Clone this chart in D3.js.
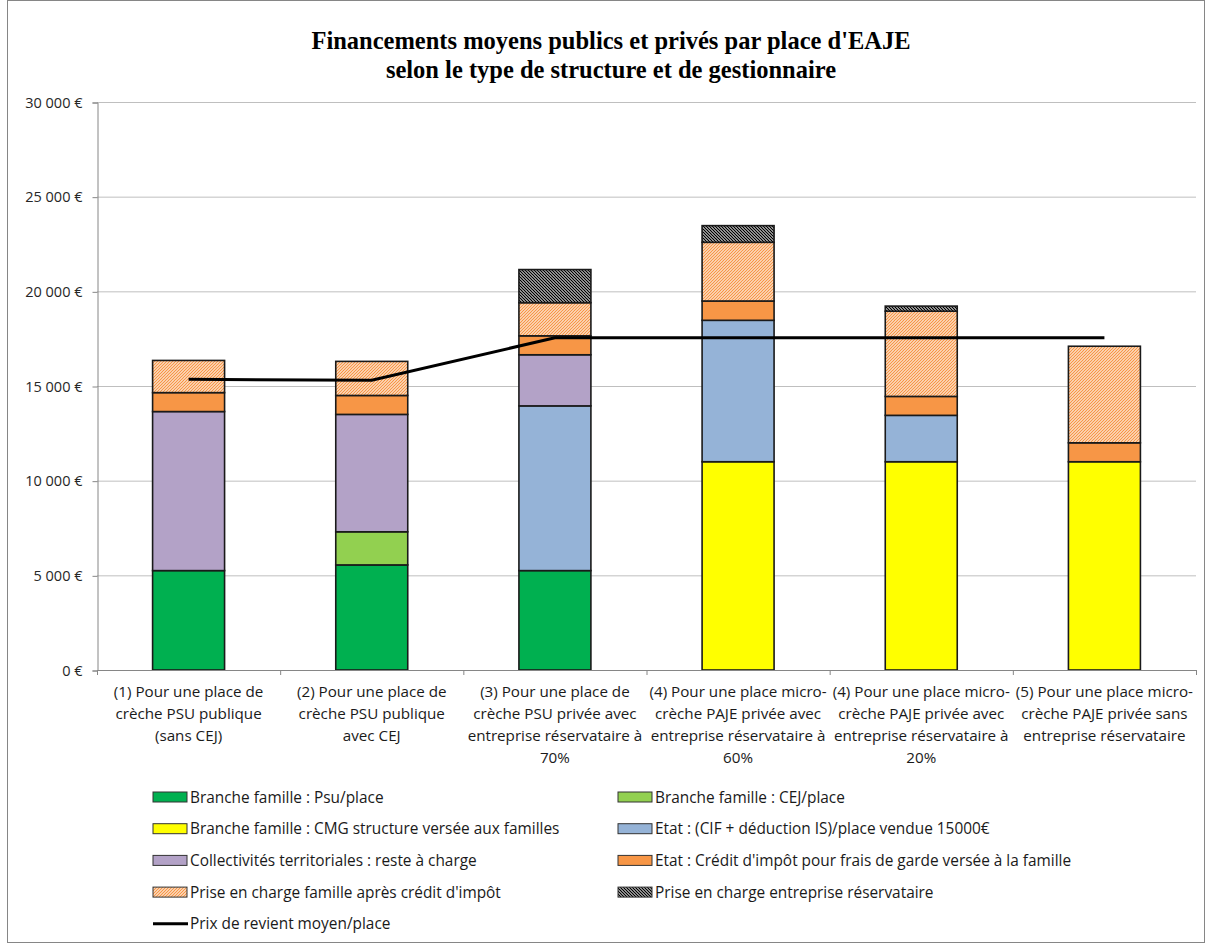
<!DOCTYPE html>
<html><head><meta charset="utf-8">
<script src="https://cdn.jsdelivr.net/npm/d3@7"></script>
<style>body{margin:0;background:#fff}svg{display:block}</style>
</head><body>
<svg id="chart" width="1206" height="944"></svg>
<script>
const categories = [
  "(1) Pour une place de\ncrèche PSU publique\n(sans CEJ)",
  "(2) Pour une place de\ncrèche PSU publique\navec CEJ",
  "(3) Pour une place de\ncrèche PSU privée avec\nentreprise réservataire à\n70%",
  "(4) Pour une place micro-\ncrèche PAJE privée avec\nentreprise réservataire à\n60%",
  "(4) Pour une place micro-\ncrèche PAJE privée avec\nentreprise réservataire à\n20%",
  "(5) Pour une place micro-\ncrèche PAJE privée sans\nentreprise réservataire"
];
const psuPlace      = [5250, 5550, 5250, 0, 0, 0];
const cejPlace      = [0, 1750, 0, 0, 0, 0];
const cmgStructure  = [0, 0, 0, 11000, 11000, 11000];
const etatCif       = [0, 0, 8700, 7470, 2450, 0];
const collectivites = [8400, 6200, 2700, 0, 0, 0];
const creditImpot   = [1000, 1000, 1000, 1020, 1000, 1000];
const priseFamille  = [1700, 1800, 1750, 3100, 4500, 5100];
const priseEntreprise = [0, 0, 1750, 880, 270, 0];
const prixRevient   = [15350, 15300, 17550, 17550, 17550, 17550];
const yTicks = [0, 5000, 10000, 15000, 20000, 25000, 30000];
const seriesNames = [
  "Branche famille : Psu/place",
  "Branche famille : CEJ/place",
  "Branche famille : CMG structure versée aux familles",
  "Etat : (CIF + déduction IS)/place vendue 15000€",
  "Collectivités territoriales : reste à charge",
  "Etat : Crédit d'impôt pour frais de garde versée à la famille",
  "Prise en charge famille après crédit d'impôt",
  "Prise en charge entreprise réservataire"
];
const lineName = "Prix de revient moyen/place";
const titleLines = ["Financements moyens publics et privés par place d'EAJE", "selon le type de structure et de gestionnaire"];

(function(){
const seriesValues = [psuPlace, cejPlace, cmgStructure, etatCif, collectivites, creditImpot, priseFamille, priseEntreprise];
const fills = ["#00B050", "#92D050", "#FFFF00", "#95B3D7", "#B3A2C7", "#F79646", "url(#hatchOrange)", "url(#hatchBlack)"];

const svg = d3.select("#chart");
const defs = svg.append("defs");
const po = defs.append("pattern").attr("id","hatchOrange").attr("patternUnits","userSpaceOnUse")
  .attr("width",3).attr("height",3);
po.append("rect").attr("width",3).attr("height",3).attr("fill","#fff");
po.append("path").attr("d","M-1,1 l2,-2 M0,3 l3,-3 M2,4 l2,-2").attr("stroke","#F79646").attr("stroke-width",1.3);
const pb = defs.append("pattern").attr("id","hatchBlack").attr("patternUnits","userSpaceOnUse")
  .attr("width",3).attr("height",3);
pb.append("rect").attr("width",3).attr("height",3).attr("fill","#fff");
pb.append("path").attr("d","M-1,2 l2,2 M0,0 l3,3 M2,-1 l2,2").attr("stroke","#000").attr("stroke-width",1.3);

svg.append("rect").attr("x",7.5).attr("y",0.5).attr("width",1197).attr("height",942)
  .attr("fill","none").attr("stroke","#868686").attr("stroke-width",1);

const pLeft = 97, pRight = 1196, pTop = 102, pBottom = 670;
const x = d3.scaleBand().domain(categories).range([pLeft, pRight]).paddingInner(0.607).paddingOuter(0.3035);
const y = d3.scaleLinear().domain([0, 30000]).range([pBottom, pTop]);

svg.append("text").attr("x", 611).attr("y", 49).attr("text-anchor","middle")
  .style("font-family","'Liberation Serif', serif").style("font-weight","bold").style("font-size","24.5px")
  .selectAll("tspan").data(titleLines).join("tspan")
  .attr("x", 611).attr("dy", (d,i)=> i===0 ? 0 : 29).text(d=>d);

svg.append("g").selectAll("line").data(yTicks).join("line")
  .attr("x1", pLeft).attr("x2", pRight).attr("y1", d=>y(d)+0.5).attr("y2", d=>y(d)+0.5)
  .attr("stroke","#BFBFBF").attr("stroke-width",1);

const fmt = d => d3.format(",")(d).replace(/,/g, " ") + " €";
const yAxis = svg.append("g").attr("transform", `translate(${pLeft+0.5},0.5)`)
  .call(d3.axisLeft(y).tickValues(yTicks).tickFormat(fmt).tickSize(5).tickPadding(10));
yAxis.select(".domain").attr("stroke","#868686");
yAxis.selectAll(".tick line").attr("stroke","#868686");
yAxis.selectAll("text").style("font-family","'Open Sans', sans-serif").style("font-size","14.5px").attr("fill","#262626");

const idx = d3.range(categories.length);
const stackData = idx.map(i => { const o = {cat: categories[i]}; seriesValues.forEach((s,k)=> o["s"+k] = s[i]); return o; });
const stack = d3.stack().keys(seriesValues.map((s,k)=>"s"+k))(stackData);
svg.append("g").selectAll("g").data(stack).join("g")
  .attr("fill", (d,k)=>fills[k])
  .selectAll("rect").data(d=>d.filter(p => p[1]-p[0] > 0)).join("rect")
  .attr("x", d=>x(d.data.cat)).attr("width", x.bandwidth())
  .attr("y", d=>y(d[1])).attr("height", d=>y(d[0])-y(d[1]))
  .attr("stroke","#1a1a1a").attr("stroke-width",1.6);

svg.append("line").attr("x1",pLeft).attr("x2",pRight).attr("y1",pBottom+0.5).attr("y2",pBottom+0.5).attr("stroke","#868686");
const step = x.step();
svg.append("g").selectAll("line").data(d3.range(categories.length+1)).join("line")
  .attr("x1", i=>pLeft + i*step + 0.5).attr("x2", i=>pLeft + i*step + 0.5)
  .attr("y1", pBottom).attr("y2", pBottom+5).attr("stroke","#868686");

svg.append("g").selectAll("text").data(categories).join("text")
  .attr("text-anchor","middle")
  .style("font-family","'Open Sans', sans-serif").style("font-size","15.2px").attr("fill","#1a1a1a")
  .each(function(d){
    const t = d3.select(this); const cx = x(d) + x.bandwidth()/2;
    d.split("\n").forEach((ln,i)=> t.append("tspan").attr("x",cx).attr("y", pBottom + 27 + i*22).text(ln));
  });

svg.append("path").datum(idx)
  .attr("d", d3.line().x(i => x(categories[i]) + x.bandwidth()/2).y(i => y(prixRevient[i])))
  .attr("fill","none").attr("stroke","#000").attr("stroke-width",3);

const legItems = seriesNames.map((n,k)=>({name:n, fill:fills[k], type:"rect"})).concat([{name:lineName, type:"line"}]);
const leg = svg.append("g");
legItems.forEach((it,k)=>{
  const col = k % 2, row = Math.floor(k/2);
  const lx = col===0 ? 153 : 618, ly = 797 + row*31.7;
  if (it.type === "rect") {
    leg.append("rect").attr("x", lx).attr("y", ly-5).attr("width",34).attr("height",10)
      .attr("fill", it.fill).attr("stroke","#333").attr("stroke-width",1);
  } else {
    leg.append("line").attr("x1",lx).attr("x2",lx+35).attr("y1",ly).attr("y2",ly).attr("stroke","#000").attr("stroke-width",3);
  }
  leg.append("text").attr("x", lx+37).attr("y", ly+5.5)
    .style("font-family","'Open Sans', sans-serif").style("font-size","15.4px").attr("fill","#1a1a1a").text(it.name);
});
})();
</script>
</body></html>
